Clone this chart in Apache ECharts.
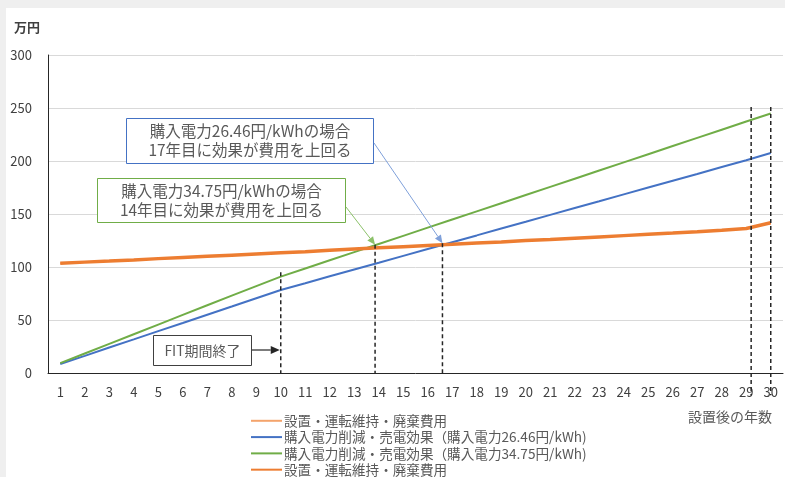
<!DOCTYPE html>
<html>
<head>
<meta charset="utf-8">
<script src="https://cdn.jsdelivr.net/npm/echarts@6/dist/echarts.min.js"></script>
<style>
  html, body { margin: 0; padding: 0; background: #efefef; }
  #chart { position: absolute; left: 6px; top: 8px; width: 779px; height: 469px; background: #fff; }
</style>
</head>
<body>
<div id="chart"></div>
<script type="text/javascript">

// 設置後の年数
var years = [];
for (var i = 1; i <= 30; i++) years.push(String(i));

// 設置・運転維持・廃棄費用（万円）
var costValues = [103.5, 104.6, 105.6, 106.7, 107.9, 109.0, 110.1, 111.2, 112.3, 113.4,
                  114.5, 115.7, 116.9, 118.1, 119.2, 120.3, 121.4, 122.6, 123.7, 124.9,
                  126.0, 127.2, 128.4, 129.6, 130.8, 132.0, 133.3, 134.7, 136.3, 141.8];
// 購入電力26.46円/kWh
var effect2646 = [8.5, 16.2, 24.0, 31.7, 39.5, 47.2, 55.0, 62.7, 70.5, 78.3,
                  84.7, 91.2, 97.6, 104.0, 110.5, 117.0, 123.4, 129.8, 136.3, 142.7,
                  149.2, 155.6, 162.0, 168.5, 175.0, 181.4, 187.8, 194.3, 200.7, 207.5];
// 購入電力34.75円/kWh
var effect3475 = [9.3, 18.4, 27.5, 36.6, 45.7, 54.8, 63.9, 73.0, 82.0, 90.9,
                  98.6, 106.3, 114.0, 121.7, 129.4, 137.1, 144.8, 152.5, 160.2, 167.9,
                  175.6, 183.3, 191.0, 198.7, 206.4, 214.1, 221.8, 229.5, 237.2, 244.8];

var legendNames = ['設置・運転維持・廃棄費用', '購入電力削減・売電効果（購入電力26.46円/kWh)',
                   '購入電力削減・売電効果（購入電力34.75円/kWh)', '設置・運転維持・廃棄費用 '];

// 破線（年, 上端値, 下端値）
var guideX = [10, 13.85, 16.6, 29.2, 30];
var guideTop = [95, 121, 122.5, 251, 251];
var guideBottom = [0, 0, 0, -21, -21];

var font = '"Noto Sans CJK JP", "Noto Sans", sans-serif';
var chart = echarts.init(document.getElementById('chart'));

var lineSeries = function(name, data, color, width, z) {
    return {
        name: name, type: 'line', data: data, symbol: 'none', z: z,
        lineStyle: { color: color, width: width }, itemStyle: { color: color }
    };
};

var option = {
    animation: false,
    textStyle: { fontFamily: font },
    grid: { left: 42, right: 2, top: 47, bottom: 104, containLabel: false },
    legend: {
        orient: 'vertical', left: 244, top: 406, height: 66, padding: 0,
        itemWidth: 31, itemHeight: 14, itemGap: 2.7,
        itemStyle: { opacity: 0 },
        textStyle: { fontSize: 13.6, color: '#595959', fontFamily: font, padding: [0, 0, 0, -3] },
        data: legendNames
    },
    xAxis: [{
        type: 'category', data: years, boundaryGap: true,
        axisLine: { lineStyle: { color: '#262626', width: 1 } },
        axisTick: { show: false },
        axisLabel: { color: '#404040', fontSize: 13, margin: 13, interval: 0 }
    }, {
        type: 'value', min: 0.5, max: 30.5, show: false
    }],
    yAxis: {
        type: 'value', min: 0, max: 300, interval: 50,
        axisLine: { show: true, lineStyle: { color: '#262626', width: 1 } },
        axisTick: { show: false },
        axisLabel: { color: '#404040', fontSize: 13, margin: 16 },
        splitLine: { lineStyle: { color: '#d9d9d9', width: 1 } }
    },
    series: [
        lineSeries(legendNames[0], costValues, '#F4A46C', 1.5, 2),
        lineSeries(legendNames[1], effect2646, '#4472C4', 2, 3),
        lineSeries(legendNames[2], effect3475, '#70AD47', 2, 3),
        lineSeries(legendNames[3], costValues, '#ED7D31', 3.5, 4)
    ]
};
chart.setOption(option);

function px(x, y) {
    return chart.convertToPixel({ xAxisIndex: 1, yAxisIndex: 0 }, [x, y]);
}

function arrow(x1, y1, x2, y2, color, w, size) {
    var a = Math.atan2(y2 - y1, x2 - x1);
    var s = size;
    var bx = x2 - s * Math.cos(a), by = y2 - s * Math.sin(a);
    var nx = -Math.sin(a) * s * 0.45, ny = Math.cos(a) * s * 0.45;
    return [
        { type: 'line', shape: { x1: x1, y1: y1, x2: bx, y2: by }, style: { stroke: color, lineWidth: w }, z: 20 },
        { type: 'polygon', shape: { points: [[x2, y2], [bx + nx, by + ny], [bx - nx, by - ny]] }, style: { fill: color }, z: 20 }
    ];
}

function box(x, y, w, h, color, text, size, lh) {
    return [
        { type: 'rect', shape: { x: x, y: y, width: w, height: h }, style: { fill: '#fff', stroke: color, lineWidth: 1 }, z: 20 },
        { type: 'text', x: x + w / 2, y: y + h / 2, z: 21,
          style: { text: text, fill: '#595959', font: size + 'px ' + font, align: 'center', verticalAlign: 'middle', lineHeight: lh } }
    ];
}

var g = [];
for (var k = 0; k < guideX.length; k++) {
    var p1 = px(guideX[k], guideTop[k]), p2 = px(guideX[k], guideBottom[k]);
    g.push({ type: 'line', shape: { x1: p1[0], y1: p1[1], x2: p2[0], y2: p2[1] },
             style: { stroke: '#262626', lineWidth: 1.5, lineDash: [4, 3] }, z: 10 });
}

g = g.concat(box(120.5, 110.5, 247, 45, '#4472C4', '購入電力26.46円/kWhの場合\n17年目に効果が費用を上回る', 15.5, 19));
g = g.concat(box(91.5, 170.5, 248, 44, '#70AD47', '購入電力34.75円/kWhの場合\n14年目に効果が費用を上回る', 15.5, 19));
g = g.concat(box(147.5, 327.5, 98, 30, '#404040', 'FIT期間終了', 14, 16));

var cb = px(16.6, 122.5);
g = g.concat(arrow(368, 135, cb[0], cb[1], '#7FA0DA', 1, 8));
var cg = px(13.85, 121);
g = g.concat(arrow(340, 199, cg[0], cg[1], '#8CC16A', 1, 8));
var cf = px(10, 0);
g = g.concat(arrow(246, 342, cf[0] - 1, 342, '#262626', 1.2, 9));

g.push({ type: 'text', x: 8, y: 19, style: { text: '万円', fill: '#404040', font: 'bold 13px ' + font, verticalAlign: 'middle' } });
g.push({ type: 'text', x: 682, y: 409, style: { text: '設置後の年数', fill: '#595959', font: '14px ' + font, verticalAlign: 'middle' } });

chart.setOption({ graphic: g });

</script>
</body>
</html>
